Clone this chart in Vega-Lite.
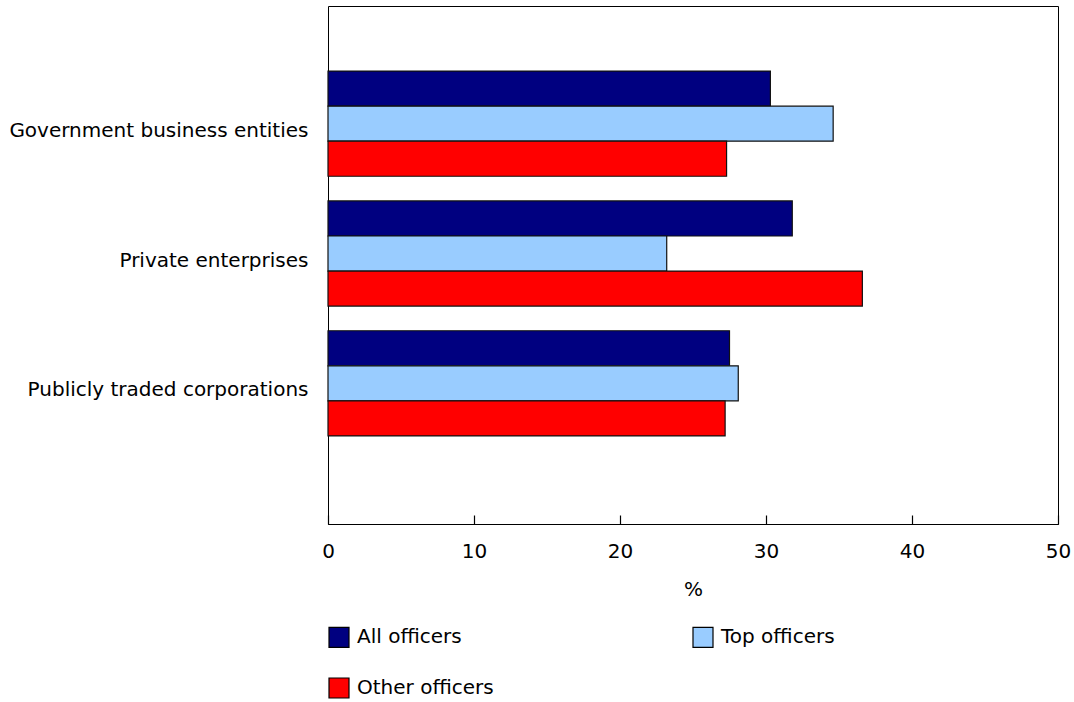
{
  "$schema": "https://vega.github.io/schema/vega-lite/v6.json",
  "width": 730,
  "height": 518,
  "autosize": {"type": "none"},
  "padding": {"left": 328, "top": 6, "right": 16, "bottom": 178},
  "background": "white",
  "config": {
    "font": "DejaVu Sans",
    "view": {"stroke": "black", "strokeWidth": 1},
    "axis": {"labelFont": "DejaVu Sans", "titleFont": "DejaVu Sans", "labelColor": "black", "titleColor": "black"}
  },
  "data": {
    "values": [
      {"type": "Government business entities", "series": "All officers", "value": 30.3},
      {"type": "Government business entities", "series": "Top officers", "value": 34.6},
      {"type": "Government business entities", "series": "Other officers", "value": 27.3},
      {"type": "Private enterprises", "series": "All officers", "value": 31.8},
      {"type": "Private enterprises", "series": "Top officers", "value": 23.2},
      {"type": "Private enterprises", "series": "Other officers", "value": 36.6},
      {"type": "Publicly traded corporations", "series": "All officers", "value": 27.5},
      {"type": "Publicly traded corporations", "series": "Top officers", "value": 28.1},
      {"type": "Publicly traded corporations", "series": "Other officers", "value": 27.2}
    ]
  },
  "mark": {"type": "bar", "stroke": "#111111", "strokeWidth": 1.2},
  "encoding": {
    "y": {
      "field": "type",
      "type": "nominal",
      "sort": ["Government business entities", "Private enterprises", "Publicly traded corporations"],
      "scale": {"paddingInner": 0.19, "paddingOuter": 0.59, "align": 0.425},
      "axis": {
        "title": null,
        "ticks": false,
        "domain": false,
        "labelFontSize": 20,
        "labelPadding": 20,
        "labelOffset": 7,
        "labelLimit": 400
      }
    },
    "yOffset": {
      "field": "series",
      "type": "nominal",
      "sort": ["All officers", "Top officers", "Other officers"],
      "scale": {"paddingInner": 0, "paddingOuter": 0}
    },
    "x": {
      "field": "value",
      "type": "quantitative",
      "scale": {"domain": [0, 50], "nice": false},
      "axis": {
        "title": "%",
        "titleFontSize": 20,
        "titleFontWeight": "normal",
        "titlePadding": 18,
        "values": [0, 10, 20, 30, 40, 50],
        "grid": false,
        "tickSize": -9,
        "tickColor": "black",
        "tickWidth": 1.2,
        "domainColor": "black",
        "domainWidth": 1.2,
        "labelFontSize": 20,
        "labelPadding": 26,
        "labelFlush": false
      }
    },
    "color": {
      "field": "series",
      "type": "nominal",
      "sort": ["All officers", "Top officers", "Other officers"],
      "scale": {
        "domain": ["All officers", "Top officers", "Other officers"],
        "range": ["#000080", "#99CCFF", "#FF0000"]
      },
      "legend": {
        "title": null,
        "orient": "none",
        "legendX": 0,
        "legendY": 620,
        "direction": "horizontal",
        "columns": 2,
        "columnPadding": 196,
        "rowPadding": 25,
        "symbolType": "square",
        "symbolSize": 400,
        "symbolStrokeColor": "black",
        "symbolStrokeWidth": 1.2,
        "symbolOffset": 0,
        "labelFontSize": 20,
        "labelColor": "black",
        "labelOffset": 7,
        "padding": 0
      }
    }
  }
}
